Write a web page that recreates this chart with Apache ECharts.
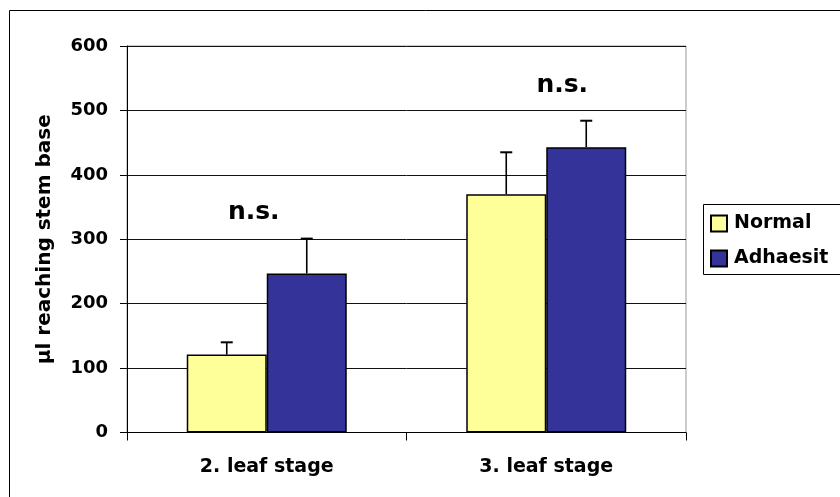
<!DOCTYPE html>
<html>
<head>
<meta charset="utf-8">
<script src="https://cdn.jsdelivr.net/npm/echarts@6/dist/echarts.min.js"></script>
<style>
html,body{margin:0;padding:0;background:#fff;}
#main{width:840px;height:497px;}
</style>
</head>
<body>
<div id="main"></div>
<script>
var categories = ['2. leaf stage', '3. leaf stage'];
var normalValues = [121, 370];
var normalErrTop = [140, 435];
var adhaesitValues = [247, 443];
var adhaesitErrTop = [301, 484];
var yTicks = [0, 100, 200, 300, 400, 500, 600];
var annotations = ['n.s.', 'n.s.'];
var annotationValues = [342, 539];

var FONT = '"DejaVu Sans", "Liberation Sans", Arial, sans-serif';
var BAR_W = 80;

var chart = echarts.init(document.getElementById('main'), null, {renderer: 'canvas'});

function errData(vals, tops) {
  return vals.map(function (v, i) { return [i, v, tops[i]]; });
}
function errRender(offset) {
  return function (params, api) {
    var base = api.coord([api.value(0), api.value(1)]);
    var top = api.coord([api.value(0), api.value(2)]);
    var x = base[0] + offset;
    var cap = 6;
    return {
      type: 'group',
      children: [
        {type: 'line', shape: {x1: x, y1: base[1], x2: x, y2: top[1]}, style: {stroke: '#000', lineWidth: 1.6}},
        {type: 'line', shape: {x1: x - cap, y1: top[1], x2: x + cap, y2: top[1]}, style: {stroke: '#000', lineWidth: 2}}
      ]
    };
  };
}

var option = {
  animation: false,
  backgroundColor: '#fff',
  grid: {left: 127, right: 154, top: 46, bottom: 64.5, show: true, borderColor: '#999', borderWidth: 1, backgroundColor: 'transparent'},
  legend: {
    data: ['Normal', 'Adhaesit'],
    orient: 'vertical',
    left: 703, top: 204,
    padding: [10, 4, 9, 7],
    itemGap: 16,
    itemWidth: 16, itemHeight: 16,
    icon: 'rect',
    borderWidth: 0,
    textStyle: {fontFamily: FONT, fontWeight: 'bold', fontSize: 19, color: '#000', padding: [0, 0, 0, 2]}
  },
  xAxis: {
    type: 'category',
    data: categories,
    axisLine: {lineStyle: {color: '#000', width: 1}},
    axisTick: {show: true, length: 8, lineStyle: {color: '#000'}},
    axisLabel: {fontFamily: FONT, fontWeight: 'bold', fontSize: 19, color: '#000', margin: 25},
    splitLine: {show: false}
  },
  yAxis: {
    type: 'value',
    min: yTicks[0], max: yTicks[yTicks.length - 1], interval: 100,
    name: 'µl reaching stem base',
    nameLocation: 'middle',
    nameGap: 72,
    nameRotate: 90,
    nameTextStyle: {fontFamily: FONT, fontWeight: 'bold', fontSize: 20, color: '#000'},
    axisLine: {show: true, lineStyle: {color: '#000', width: 1}},
    axisTick: {show: true, length: 7, inside: false, lineStyle: {color: '#000'}},
    axisLabel: {fontFamily: FONT, fontWeight: 'bold', fontSize: 18, color: '#000', margin: 19},
    splitLine: {show: true, lineStyle: {color: '#111', width: 1}}
  },
  series: [
    {
      name: 'Normal', type: 'bar', data: normalValues,
      barWidth: BAR_W, barGap: '0%',
      itemStyle: {color: '#FFFF99', borderColor: '#000', borderWidth: 1.5},
      z: 2
    },
    {
      name: 'Adhaesit', type: 'bar', data: adhaesitValues,
      barWidth: BAR_W, barGap: '0%',
      itemStyle: {color: '#333399', borderColor: '#000', borderWidth: 1.5},
      z: 2
    },
    {
      type: 'custom', name: 'errN', data: errData(normalValues, normalErrTop),
      renderItem: errRender(-BAR_W / 2), z: 3, silent: true
    },
    {
      type: 'custom', name: 'errA', data: errData(adhaesitValues, adhaesitErrTop),
      renderItem: errRender(BAR_W / 2), z: 3, silent: true
    }
  ]
};
chart.setOption(option);

var annOffsets = [-13, 16];
var graphics = [
  {type: 'rect', shape: {x: 9.5, y: 10.5, width: 900, height: 600}, style: {fill: null, stroke: '#000', lineWidth: 1}, z: -1, silent: true},
  {type: 'rect', shape: {x: 703.5, y: 204.5, width: 200, height: 70}, style: {fill: null, stroke: '#000', lineWidth: 1}, z: 5, silent: true}
];
annotations.forEach(function (t, i) {
  var p = chart.convertToPixel({gridIndex: 0}, [i, annotationValues[i]]);
  graphics.push({
    type: 'text', x: p[0] + annOffsets[i], y: p[1],
    style: {text: t, font: 'bold 25px ' + FONT, fill: '#000', textAlign: 'center', textVerticalAlign: 'middle'},
    z: 10
  });
});
chart.setOption({graphic: graphics});
</script>
</body>
</html>
